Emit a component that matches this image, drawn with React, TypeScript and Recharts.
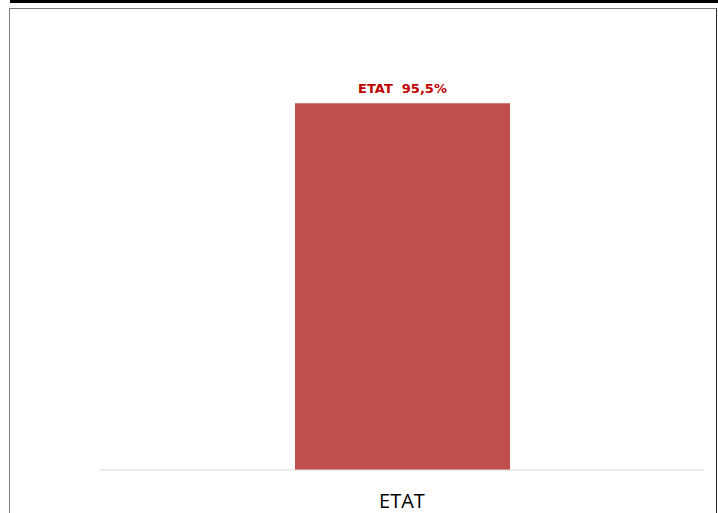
import React from 'react';
import { BarChart, Bar, XAxis, YAxis, LabelList } from 'recharts';

const categories = ['ETAT'];
const values = [95.5];

const data = categories.map((name, i) => ({ name, value: values[i] }));

// non-breaking space keeps the double gap, Recharts Text collapses normal spaces
const formatLabel = (v: any) => `ETAT\u00a0\u00a0${String(v).replace('.', ',')}%`;

const App: React.FC = () => {
  return (
    <div style={{ position: 'absolute', left: 0, top: 0, width: 718, height: 513, overflow: 'hidden', background: '#fff' }}>
      <div style={{ position: 'absolute', left: 10, top: 0, width: 708, height: 3, background: '#000' }} />
      <div
        style={{
          position: 'absolute',
          left: 9,
          top: 8,
          width: 706,
          height: 520,
          borderLeft: '1px solid #808080',
          borderTop: '1px solid #808080',
          borderRight: '1px solid #262626',
        }}
      />
      <div style={{ position: 'absolute', left: 0, top: 0 }}>
        <BarChart
          width={718}
          height={513}
          data={data}
          margin={{ top: 86, right: 14, bottom: 0, left: 100 }}
        >
          <YAxis hide domain={[0, 100]} />
          <XAxis
            dataKey="name"
            axisLine={{ stroke: '#d9d9d9' }}
            tickLine={false}
            tickSize={0}
            tickMargin={24}
            height={43}
            tick={{ fontSize: 20, fill: '#000', fontFamily: '"Open Sans", sans-serif' }}
          />
          <Bar dataKey="value" fill="#C0504D" barSize={215} isAnimationActive={false}>
            <LabelList
              dataKey="value"
              position="top"
              offset={10}
              formatter={formatLabel}
              style={{
                fill: '#C00000',
                fontSize: 13,
                fontWeight: 'bold',
                fontFamily: '"DejaVu Sans", sans-serif',
              }}
            />
          </Bar>
        </BarChart>
      </div>
    </div>
  );
};

export default App;
